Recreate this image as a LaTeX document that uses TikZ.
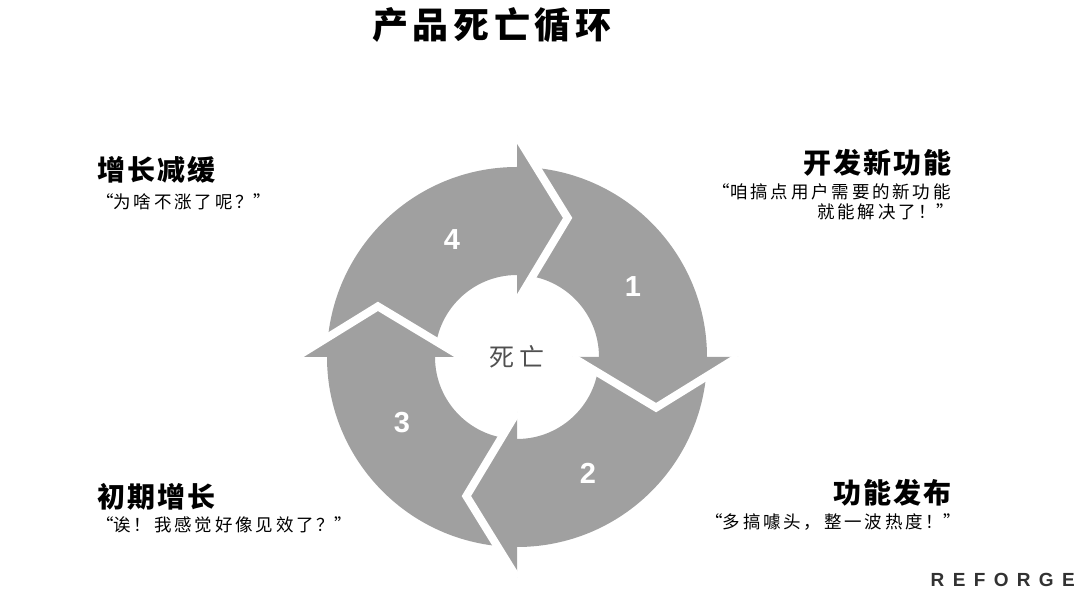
\documentclass[tikz,border=0pt]{standalone}
\usepackage{fontspec}
\newfontfamily\cjk{Noto Sans CJK SC}
\newfontfamily\numfont{Liberation Sans}
\definecolor{ringgray}{RGB}{160,160,160}
\definecolor{centergray}{RGB}{80,80,80}
\definecolor{logogray}{RGB}{50,50,50}
\newcommand{\oq}{\makebox[1em][r]{“}}
\newcommand{\cq}{\makebox[1em][c]{”}}
\tikzset{
  ring/.style={fill=ringgray},
  gap/.style={draw=white, line width=8pt, line join=miter, line cap=butt},
  num/.style={text=white, font=\numfont\bfseries\fontsize{29}{29}\selectfont, inner sep=0pt},
  head/.style={font=\cjk\bfseries\fontsize{28}{30}\selectfont\addfontfeature{LetterSpace=7}, inner sep=0pt},
  quote/.style={font=\cjk\fontsize{17.5}{18}\selectfont\addfontfeature{LetterSpace=16}, inner sep=0pt},
}
\begin{document}
\begin{tikzpicture}[x=1pt,y=1pt]
\useasboundingbox (0,0) rectangle (1080,594);
\coordinate (c) at (517,237);
% ring
\fill[ring, even odd rule] (c) circle (190pt) (c) circle (82pt);
% heads
\foreach \b in {90,0,-90,180}{
  \fill[ring] ([shift={(\b:221pt)}]c) -- ([shift={(\b-20:148pt)}]c) -- ([shift={(\b:55pt)}]c) -- cycle;
}
\foreach \b in {90,0,-90,180}{
  \draw[gap] ([shift={(\b:221pt)}]c) -- ([shift={(\b-20:148pt)}]c) -- ([shift={(\b:55pt)}]c);
}
% numbers
\node[num] (n4) at (452,354) {4};
\node[num] (n1) at (633,307) {1};
\node[num] (n2) at (588,121) {2};
\node[num] (n3) at (402,171) {3};
% center
\node[inner sep=0pt, text=centergray, font=\cjk\fontsize{25}{25}\selectfont\addfontfeature{LetterSpace=18}] (dead) at (c) {死亡};
% title
\node[inner sep=0pt, font=\cjk\bfseries\fontsize{36}{38}\selectfont\addfontfeature{LetterSpace=13}] (title) at (492,569) {产品死亡循环};
% labels
\node[head, anchor=west] (h4) at (97,424) {增长减缓};
\node[quote, anchor=west] (q4) at (96,392) {\oq 为啥不涨了呢？\cq};
\node[head, anchor=east] (h1) at (952,431) {开发新功能};
\node[quote, anchor=east] (q1a) at (951,402) {\oq 咱搞点用户需要的新功能};
\node[quote, anchor=east] (q1b) at (954,382) {就能解决了！\cq};
\node[head, anchor=west] (h3) at (97,97) {初期增长};
\node[quote, anchor=west] (q3) at (96,69) {\oq 诶！我感觉好像见效了？\cq};
\node[head, anchor=east] (h2) at (952,101) {功能发布};
\node[quote, anchor=east] (q2) at (961,72) {\oq 多搞噱头，整一波热度！\cq};
% logo
\node[inner sep=0pt, anchor=east, text=logogray, font=\numfont\bfseries\fontsize{19}{20}\selectfont\addfontfeature{LetterSpace=44}] (logo) at (1075,14) {REFORGE};
\end{tikzpicture}
\end{document}
